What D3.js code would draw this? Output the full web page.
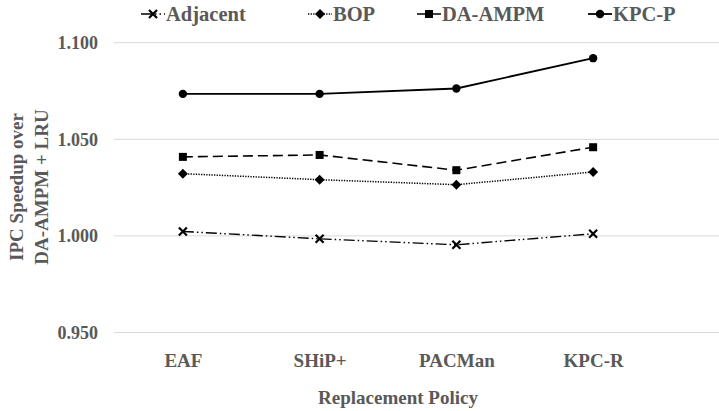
<!DOCTYPE html>
<html>
<head>
<meta charset="utf-8">
<script src="https://cdn.jsdelivr.net/npm/d3@7"></script>
<style>
  html, body { margin: 0; padding: 0; background: #fff; }
  svg { display: block; }
  text { font-family: "Liberation Serif", "Times New Roman", serif; font-weight: bold; fill: #595959; }
</style>
</head>
<body>
<svg id="chart" width="719" height="411"></svg>
<script>
// Replacement policies on the x axis
const categories = ["EAF", "SHiP+", "PACMan", "KPC-R"];

// IPC speedup of each prefetcher over DA-AMPM + LRU
const adjacent = [1.0023, 0.9985, 0.9954, 1.0011];
const bop      = [1.0322, 1.0291, 1.0265, 1.0331];
const daAmpm   = [1.0409, 1.0419, 1.0340, 1.0459];
const kpcP     = [1.0735, 1.0735, 1.0763, 1.0920];

const seriesNames = ["Adjacent", "BOP", "DA-AMPM", "KPC-P"];
const yTicks = [0.95, 1.00, 1.05, 1.10];

const series = [
  { name: seriesNames[0], values: adjacent, dash: "11,3,1.5,3,1.5,3", width: 1.4, marker: "x" },
  { name: seriesNames[1], values: bop,      dash: "1.3,1.3",           width: 1.5, marker: "diamond" },
  { name: seriesNames[2], values: daAmpm,   dash: "10,5",              width: 1.6, marker: "square" },
  { name: seriesNames[3], values: kpcP,     dash: null,                width: 1.8, marker: "circle" }
];

const svg = d3.select("#chart");

const x = d3.scalePoint().domain(categories).range([114.5, 661.5]).padding(0.5);
const y = d3.scaleLinear().domain([0.95, 1.10]).range([332.5, 42.7]);

// horizontal gridlines
svg.append("g")
  .selectAll("line")
  .data(yTicks)
  .join("line")
  .attr("x1", 114).attr("x2", 719)
  .attr("y1", d => y(d)).attr("y2", d => y(d))
  .attr("stroke", "#d9d9d9").attr("stroke-width", 1);

// y axis labels
const yAxis = d3.axisLeft(y).tickValues(yTicks).tickFormat(d3.format(".3f")).tickSize(0).tickPadding(0);
const gy = svg.append("g").attr("transform", "translate(98,0)").call(yAxis);
gy.select(".domain").remove();
gy.selectAll("text").attr("font-size", 18).attr("font-family", null);

// x axis labels
const xAxis = d3.axisBottom(x).tickSize(0).tickPadding(0);
const gx = svg.append("g").attr("transform", "translate(0,353)").call(xAxis);
gx.select(".domain").remove();
gx.selectAll("text").attr("font-size", 19).attr("dy", "0.71em").attr("font-family", null);

// axis titles
svg.append("text")
  .attr("x", 398).attr("y", 404)
  .attr("text-anchor", "middle").attr("font-size", 19)
  .text("Replacement Policy");

const yTitle = svg.append("text")
  .attr("transform", "translate(30,187) rotate(-90)")
  .attr("text-anchor", "middle").attr("font-size", 19);
yTitle.append("tspan").attr("x", 0).attr("dy", "-0.35em").text("IPC Speedup over");
yTitle.append("tspan").attr("x", 0).attr("dy", "1.3em").text("DA-AMPM + LRU");

// marker drawing
function drawMarker(g, type, cx, cy) {
  if (type === "circle") {
    g.append("circle").attr("cx", cx).attr("cy", cy).attr("r", 4.2).attr("fill", "#000");
  } else if (type === "square") {
    g.append("rect").attr("x", cx - 4).attr("y", cy - 4).attr("width", 8).attr("height", 8).attr("fill", "#000");
  } else if (type === "diamond") {
    g.append("path").attr("d", `M${cx},${cy - 5}L${cx + 5},${cy}L${cx},${cy + 5}L${cx - 5},${cy}Z`).attr("fill", "#000");
  } else if (type === "x") {
    g.append("path").attr("d", `M${cx - 4},${cy - 4}L${cx + 4},${cy + 4}M${cx - 4},${cy + 4}L${cx + 4},${cy - 4}`)
      .attr("stroke", "#000").attr("stroke-width", 2.2).attr("fill", "none");
  }
}

const line = d3.line().x((d, i) => x(categories[i])).y(d => y(d));

series.forEach(s => {
  const g = svg.append("g");
  g.append("path")
    .attr("d", line(s.values))
    .attr("fill", "none").attr("stroke", "#000")
    .attr("stroke-width", s.width)
    .attr("stroke-dasharray", s.dash);
  s.values.forEach((v, i) => drawMarker(g, s.marker, x(categories[i]), y(v)));
});

// legend
const legendTextX = [166, 333, 442, 613];
const legendY = 14;
series.forEach((s, i) => {
  const g = svg.append("g");
  const tx = legendTextX[i];
  g.append("line")
    .attr("x1", tx - 25).attr("x2", tx - 1)
    .attr("y1", legendY).attr("y2", legendY)
    .attr("stroke", "#000").attr("stroke-width", s.width)
    .attr("stroke-dasharray", s.dash);
  drawMarker(g, s.marker, tx - 13, legendY);
  g.append("text")
    .attr("x", tx).attr("y", legendY).attr("dy", "0.35em")
    .attr("font-size", 20.5)
    .text(s.name);
});
</script>
</body>
</html>
